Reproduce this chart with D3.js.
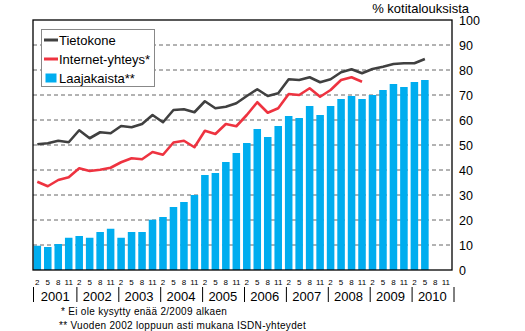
<!DOCTYPE html>
<html>
<head>
<meta charset="utf-8">
<script src="https://cdn.jsdelivr.net/npm/d3@7"></script>
<style>
  html, body { margin: 0; padding: 0; background: #fff; }
  svg { display: block; font-family: 'Liberation Sans', Arial, sans-serif; }
</style>
</head>
<body>
<svg id="chart" width="525" height="331"></svg>
<script>
const years = [2001, 2002, 2003, 2004, 2005, 2006, 2007, 2008, 2009, 2010];
const months = ['2', '5', '8', '11'];
const yTicks = [0, 10, 20, 30, 40, 50, 60, 70, 80, 90, 100];

// quarterly shares, % of households
const tietokone = [50.3, 50.7, 51.7, 51.1, 55.9, 52.7, 55.1, 54.7, 57.6, 57.1, 58.4, 62, 59.1, 64, 64.3, 63.1,
  67.5, 64.7, 65.3, 66.7, 69.6, 72.3, 69.6, 70.7, 76.3, 76, 77.1, 75.1, 76.3, 79.1, 80.3, 78.7,
  80.4, 81.3, 82.4, 82.7, 82.7, 84.4];
const internet = [35.3, 33.5, 36, 37.1, 40.7, 39.6, 40.1, 40.9, 43.1, 44.7, 44.3, 47.2, 46.1, 51, 51.7, 49.1,
  55.7, 54.4, 58.4, 57.5, 62, 67.1, 62.9, 64.7, 70.4, 70, 72.7, 69.3, 72, 76, 77.1, 75.3];
const laajakaista = [9.7, 9.2, 10.4, 12.9, 13.6, 12.9, 15.2, 16.5, 12.9, 15.2, 15.2, 20.1, 21.2, 25.2, 27.2, 30,
  38, 38.8, 43.2, 46.8, 50.8, 56.4, 53.2, 57.6, 61.6, 60.8, 65.6, 62, 65.6, 68.4, 69.6, 68.4,
  70, 72, 74.4, 73.2, 75.2, 76];

const legendItems = [
  { label: 'Tietokone', type: 'line', color: '#404040' },
  { label: 'Internet-yhteys*', type: 'line', color: '#ee3340' },
  { label: 'Laajakaista**', type: 'bar', color: '#00adef' }
];
const footnotes = ['* Ei ole kysytty enää 2/2009 alkaen', '** Vuoden 2002 loppuun asti mukana ISDN-yhteydet'];

const plot = { left: 33, right: 452, top: 20, bottom: 270 };

const categories = [];
years.forEach(y => months.forEach(m => categories.push({ key: y + '-' + m, month: m, year: y })));

const svg = d3.select('#chart');

const x = d3.scaleBand()
  .domain(categories.map(c => c.key))
  .range([plot.left, plot.right]);
const y = d3.scaleLinear()
  .domain([0, 100])
  .range([plot.bottom, plot.top]);

const barW = x.bandwidth() * 0.72;
const barX = k => x(k) + x.bandwidth() * 0.05;
const midX = k => barX(k) + barW / 2;

svg.append('rect').attr('width', 525).attr('height', 331).attr('fill', '#fff');

// dashed gridlines
svg.append('g')
  .selectAll('line')
  .data(yTicks.filter(t => t > 0 && t < 100))
  .join('line')
  .attr('x1', plot.left)
  .attr('x2', plot.right)
  .attr('y1', d => y(d))
  .attr('y2', d => y(d))
  .attr('stroke', '#666')
  .attr('stroke-width', 1)
  .attr('stroke-dasharray', '4,3');

// bars
svg.append('g')
  .selectAll('rect')
  .data(laajakaista)
  .join('rect')
  .attr('x', (d, i) => barX(categories[i].key))
  .attr('width', barW)
  .attr('y', d => y(d))
  .attr('height', d => y(0) - y(d))
  .attr('fill', '#00adef');

// lines
const line = d3.line()
  .x((d, i) => midX(categories[i].key))
  .y(d => y(d));

[[tietokone, '#404040'], [internet, '#ee3340']].forEach(([series, color]) => {
  svg.append('path')
    .datum(series)
    .attr('d', line)
    .attr('fill', 'none')
    .attr('stroke', color)
    .attr('stroke-width', 2.6)
    .attr('stroke-linejoin', 'round');
});

// frame
svg.append('rect')
  .attr('x', plot.left)
  .attr('y', plot.top)
  .attr('width', plot.right - plot.left)
  .attr('height', plot.bottom - plot.top)
  .attr('fill', 'none')
  .attr('stroke', '#000')
  .attr('stroke-width', 1.3);

// right y axis
const yAxis = d3.axisRight(y).tickValues(yTicks).tickSize(0).tickPadding(7);
const yAxisG = svg.append('g')
  .attr('transform', `translate(${plot.right},0)`)
  .call(yAxis);
yAxisG.select('.domain').remove();
yAxisG.selectAll('text')
  .attr('font-size', 12.5)
  .attr('font-family', "'Liberation Sans', Arial, sans-serif")
  .attr('fill', '#000');

svg.append('text')
  .attr('x', 469)
  .attr('y', 13)
  .attr('text-anchor', 'end')
  .attr('font-size', 13)
  .text('% kotitalouksista');

// month labels
svg.append('g')
  .selectAll('text')
  .data(categories)
  .join('text')
  .attr('x', d => midX(d.key))
  .attr('y', 285)
  .attr('text-anchor', 'middle')
  .attr('font-size', 8)
  .text(d => d.month);

// year labels and separators
const yearX = yr => x(yr + '-2');
const yearEnd = yr => x(yr + '-11') + x.bandwidth();

svg.append('g')
  .selectAll('text')
  .data(years)
  .join('text')
  .attr('x', d => (yearX(d) + yearEnd(d)) / 2 + 1.3)
  .attr('y', 300.5)
  .attr('text-anchor', 'middle')
  .attr('font-size', 13)
  .text(d => d);

svg.append('g')
  .selectAll('line')
  .data([years[0]].concat(years.map(yr => yr + 1)))
  .join('line')
  .attr('x1', (d, i) => i === 0 ? yearX(d) + 0.5 : yearEnd(d - 1) + 2)
  .attr('x2', (d, i) => i === 0 ? yearX(d) + 0.5 : yearEnd(d - 1) + 2)
  .attr('y1', 287)
  .attr('y2', 302)
  .attr('stroke', '#000')
  .attr('stroke-width', 1);

// footnotes
svg.append('g')
  .selectAll('text')
  .data(footnotes)
  .join('text')
  .attr('x', (d, i) => i === 0 ? 61 : 59)
  .attr('y', (d, i) => 314.5 + i * 14)
  .attr('font-size', 10)
  .attr('letter-spacing', 0.3)
  .text(d => d);

// legend
const legend = svg.append('g');
legend.append('rect')
  .attr('x', 41.5)
  .attr('y', 29.5)
  .attr('width', 113)
  .attr('height', 57)
  .attr('fill', '#fff')
  .attr('stroke', '#888')
  .attr('stroke-width', 1);

const rows = legend.selectAll('g.row')
  .data(legendItems)
  .join('g')
  .attr('class', 'row')
  .attr('transform', (d, i) => `translate(0,${40 + i * 19})`);

rows.filter(d => d.type === 'line')
  .append('line')
  .attr('x1', 44)
  .attr('x2', 58)
  .attr('stroke', d => d.color)
  .attr('stroke-width', 3);

rows.filter(d => d.type === 'bar')
  .append('rect')
  .attr('x', 45.5)
  .attr('y', -4.5)
  .attr('width', 11)
  .attr('height', 9)
  .attr('fill', d => d.color);

rows.append('text')
  .attr('x', 59)
  .attr('y', 4.5)
  .attr('font-size', 13)
  .text(d => d.label);
</script>
</body>
</html>
